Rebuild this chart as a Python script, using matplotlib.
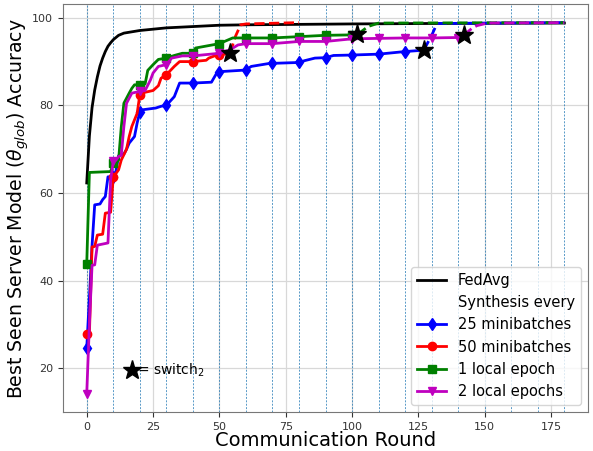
import numpy as np
import matplotlib
matplotlib.use('Agg')
import matplotlib.pyplot as plt
from matplotlib.lines import Line2D

# FedAvg baseline (best seen accuracy per round)
fedavg_r = [0, 1, 2, 3, 4, 5, 6, 7, 8, 9, 10, 12, 14, 17, 20, 25, 30, 40, 50, 60, 80, 100, 130, 180]
fedavg_a = [62.3, 73.0, 79.5, 83.5, 86.5, 89.0, 90.8, 92.3, 93.5, 94.3, 95.0, 96.0, 96.5, 96.8,
            97.1, 97.4, 97.7, 98.0, 98.3, 98.4, 98.5, 98.6, 98.7, 98.8]

# 25 minibatches (solid part up to switch, then dashed)
b25_r = [0, 1, 2, 3, 5, 6, 7, 8, 10, 11, 12, 14, 15, 16, 18, 19, 20, 21, 26, 28, 30, 33, 35,
         40, 47, 49, 50, 58, 60, 62, 69, 70, 80, 82, 86, 90, 93, 100, 110, 115, 120, 127]
b25_a = [24.6, 36.0, 48.0, 57.3, 57.5, 58.5, 59.2, 63.7, 63.7, 65.0, 68.5, 68.9, 70.0, 71.4,
         72.9, 76.0, 78.5, 79.0, 79.4, 79.8, 80.0, 82.0, 85.1, 85.1, 85.3, 87.4, 87.7, 88.0,
         88.1, 88.9, 89.6, 89.6, 89.8, 90.2, 90.8, 90.9, 91.4, 91.5, 91.7, 92.0, 92.3, 92.6]
b25_post_r = [127, 130, 132, 180]
b25_post_a = [92.6, 96.0, 98.7, 98.9]

# 50 minibatches
b50_r = [0, 1, 2, 3, 4, 6, 7, 9, 10, 12, 13, 15, 16, 17, 19, 20, 22, 25, 27, 28, 30, 33, 35,
         40, 45, 46, 49, 50, 54]
b50_a = [27.8, 27.8, 47.7, 47.8, 50.4, 50.6, 55.4, 55.6, 63.6, 65.3, 67.5, 70.0, 72.9, 75.2,
         78.2, 82.4, 83.0, 83.4, 84.5, 86.2, 87.0, 88.9, 90.0, 90.0, 90.3, 90.8, 91.5, 91.5, 91.9]
b50_post_r = [54, 56, 58, 60, 80]
b50_post_a = [91.9, 95.7, 98.4, 98.6, 98.9]

# 1 local epoch
e1_r = [0, 1, 9, 10, 11, 12, 13, 14, 16, 17, 18, 20, 22, 23, 25, 27, 30, 33, 36, 40, 41,
        50, 55, 60, 70, 80, 90, 100, 102]
e1_a = [43.8, 64.7, 64.9, 66.8, 66.9, 67.5, 75.0, 80.5, 82.8, 83.9, 84.7, 84.7, 84.9, 88.0,
        89.3, 90.5, 90.8, 91.4, 91.9, 91.9, 93.1, 94.1, 95.4, 95.4, 95.4, 95.7, 96.0, 96.1, 96.2]
e1_post_r = [102, 106, 110, 180]
e1_post_a = [96.2, 98.0, 98.8, 98.9]

# 2 local epochs
e2_r = [0, 1, 2, 3, 4, 8, 9, 10, 11, 12, 13, 14, 15, 17, 20, 22, 24, 25, 27, 30, 32, 36, 40,
        50, 54, 57, 60, 70, 80, 90, 100, 110, 120, 130, 140, 142]
e2_a = [14.2, 30.0, 43.5, 43.6, 48.1, 48.6, 63.0, 67.2, 67.5, 68.3, 68.6, 75.2, 80.5, 82.8,
        83.2, 83.4, 85.8, 87.4, 88.9, 89.3, 90.8, 91.3, 91.3, 91.9, 92.7, 93.8, 94.1, 94.1,
        94.6, 94.6, 95.2, 95.3, 95.4, 95.4, 95.5, 96.0]
e2_post_r = [142, 145, 147, 151, 180]
e2_post_a = [96.0, 97.5, 98.2, 98.8, 98.9]

series = [
    ('25 minibatches', 'b', 'd', b25_r, b25_a, b25_post_r, b25_post_a),
    ('50 minibatches', 'r', 'o', b50_r, b50_a, b50_post_r, b50_post_a),
    ('1 local epoch', 'g', 's', e1_r, e1_a, e1_post_r, e1_post_a),
    ('2 local epochs', 'm', 'v', e2_r, e2_a, e2_post_r, e2_post_a),
]

fig = plt.figure(figsize=(5.93, 4.51), dpi=100)
ax = fig.add_axes([0.106, 0.086, 0.886, 0.905])

for r in range(0, 181, 10):
    ax.axvline(r, color='#1f77b4', lw=0.7, ls=(0, (2, 1.5)), alpha=0.75, zorder=1)

ax.plot(fedavg_r, fedavg_a, color='k', lw=2, zorder=3)

for label, col, mk, r, a, pr, pa in series:
    marks = [i for i, x in enumerate(r) if x % 10 == 0]
    ax.plot(r, a, color=col, lw=2, marker=mk, ms=6, markevery=marks, zorder=4)
    ax.plot(pr, pa, color=col, lw=2, ls='--', zorder=4)
    ax.plot(r[-1], a[-1], marker='*', color='k', ms=14, zorder=6, ls='none')

# key for the switch markers
ax.plot([17], [19.5], marker='*', color='k', ms=14, ls='none')
ax.text(19, 19.5, r'= switch$_2$', fontsize=10, va='center', ha='left')

ax.grid(True, color='#d8d8d8', lw=0.9)
ax.set_axisbelow(True)
ax.tick_params(labelsize=8, colors='#333333')
for s in ax.spines.values():
    s.set_color('#777777')
ax.set_xlabel('Communication Round', fontsize=14, labelpad=-1)
ax.set_ylabel(r'Best Seen Server Model ($\theta_{glob}$) Accuracy', fontsize=13.6, labelpad=1)
ax.set_xticks([0, 25, 50, 75, 100, 125, 150, 175])
ax.set_yticks([20, 40, 60, 80, 100])

handles = [Line2D([], [], color='k', lw=2),
           Line2D([], [], ls='none')]
labels = ['FedAvg', 'Synthesis every']
for label, col, mk, *_ in series:
    handles.append(Line2D([], [], color=col, lw=2, marker=mk, ms=6))
    labels.append(label)
ax.legend(handles, labels, loc='lower right', fontsize=10.5)

fig.savefig('out.png', dpi=100)
